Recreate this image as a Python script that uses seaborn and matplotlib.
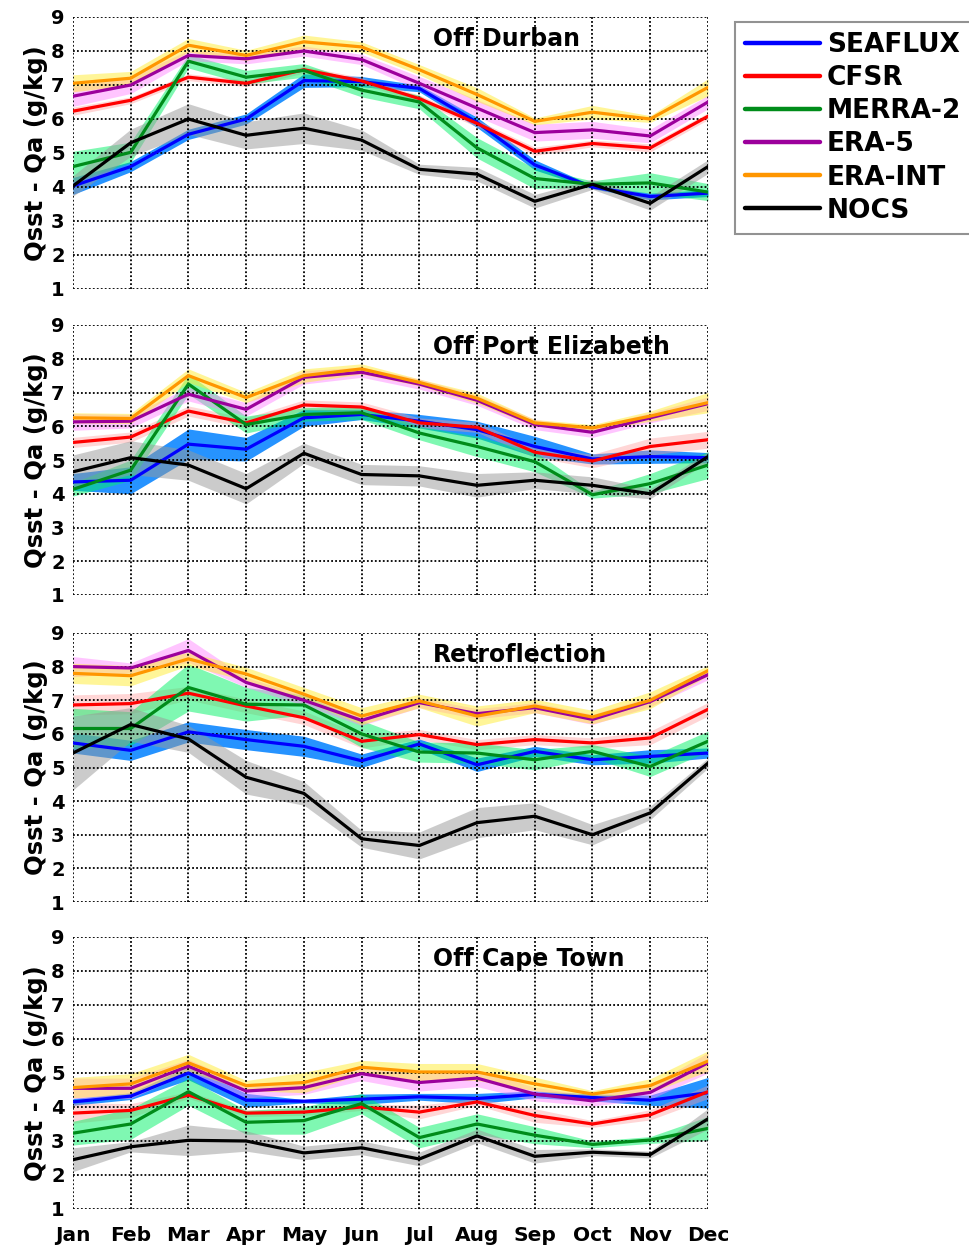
import numpy as np
import pandas as pd
import matplotlib
matplotlib.use("Agg")
import matplotlib.pyplot as plt
from matplotlib.lines import Line2D
import seaborn as sns

MONTHS = ["Jan", "Feb", "Mar", "Apr", "May", "Jun", "Jul", "Aug", "Sep", "Oct", "Nov", "Dec"]
SERIES = ["SEAFLUX", "CFSR", "MERRA-2", "ERA-5", "ERA-INT", "NOCS"]
REGIONS = ["Off Durban", "Off Port Elizabeth", "Retroflection", "Off Cape Town"]

# Monthly mean Qsst - Qa (g/kg) and the half-width of the shaded range
DURBAN_SEAFLUX = [4.03, 4.6, 5.55, 6.0, 7.13, 7.1, 6.9, 5.9, 4.65, 4.0, 3.72, 3.82]
DURBAN_CFSR = [6.23, 6.55, 7.23, 7.05, 7.45, 7.12, 6.6, 5.87, 5.05, 5.28, 5.15, 6.08]
DURBAN_MERRA2 = [4.6, 5.02, 7.7, 7.23, 7.43, 6.85, 6.5, 5.15, 4.25, 4.08, 4.12, 3.85]
DURBAN_ERA5 = [6.67, 7.0, 7.87, 7.77, 8.0, 7.75, 7.05, 6.32, 5.6, 5.68, 5.5, 6.5]
DURBAN_ERAINT = [7.05, 7.2, 8.17, 7.87, 8.27, 8.12, 7.45, 6.72, 5.93, 6.2, 6.0, 6.93]
DURBAN_NOCS = [4.03, 5.3, 6.0, 5.52, 5.73, 5.38, 4.52, 4.38, 3.58, 4.08, 3.52, 4.6]

DURBAN_SEAFLUX_SPREAD = [0.25, 0.15, 0.15, 0.15, 0.2, 0.15, 0.1, 0.15, 0.15, 0.05, 0.1, 0.1]
DURBAN_CFSR_SPREAD = [0.12, 0.1, 0.1, 0.1, 0.1, 0.1, 0.1, 0.1, 0.12, 0.1, 0.12, 0.1]
DURBAN_MERRA2_SPREAD = [0.45, 0.3, 0.2, 0.2, 0.2, 0.2, 0.2, 0.3, 0.3, 0.1, 0.3, 0.25]
DURBAN_ERA5_SPREAD = [0.3, 0.25, 0.15, 0.15, 0.15, 0.15, 0.2, 0.25, 0.25, 0.25, 0.2, 0.2]
DURBAN_ERAINT_SPREAD = [0.25, 0.2, 0.2, 0.15, 0.2, 0.15, 0.15, 0.2, 0.1, 0.2, 0.1, 0.25]
DURBAN_NOCS_SPREAD = [0.3, 0.4, 0.45, 0.4, 0.45, 0.3, 0.15, 0.2, 0.2, 0.15, 0.2, 0.2]

PE_SEAFLUX = [4.35, 4.4, 5.47, 5.32, 6.25, 6.35, 6.15, 5.9, 5.4, 5.03, 5.1, 5.07]
PE_CFSR = [5.52, 5.68, 6.45, 6.1, 6.63, 6.57, 6.1, 5.97, 5.23, 4.97, 5.4, 5.6]
PE_MERRA2 = [4.13, 4.7, 7.25, 6.05, 6.35, 6.4, 5.8, 5.4, 4.95, 3.97, 4.3, 4.85]
PE_ERA5 = [6.13, 6.15, 6.95, 6.5, 7.45, 7.6, 7.25, 6.77, 6.05, 5.82, 6.25, 6.67]
PE_ERAINT = [6.25, 6.23, 7.5, 6.85, 7.5, 7.7, 7.3, 6.83, 6.1, 5.95, 6.3, 6.7]
PE_NOCS = [4.65, 5.07, 4.85, 4.15, 5.2, 4.57, 4.53, 4.25, 4.4, 4.25, 4.0, 5.1]

PE_SEAFLUX_SPREAD = [0.25, 0.4, 0.45, 0.35, 0.25, 0.15, 0.2, 0.25, 0.3, 0.15, 0.2, 0.15]
PE_CFSR_SPREAD = [0.15, 0.15, 0.15, 0.15, 0.15, 0.15, 0.15, 0.15, 0.15, 0.2, 0.25, 0.25]
PE_MERRA2_SPREAD = [0.2, 0.3, 0.3, 0.25, 0.2, 0.2, 0.2, 0.3, 0.3, 0.1, 0.3, 0.4]
PE_ERA5_SPREAD = [0.25, 0.2, 0.2, 0.2, 0.2, 0.15, 0.15, 0.15, 0.15, 0.15, 0.15, 0.2]
PE_ERAINT_SPREAD = [0.15, 0.15, 0.2, 0.15, 0.2, 0.15, 0.1, 0.15, 0.1, 0.1, 0.15, 0.3]
PE_NOCS_SPREAD = [0.5, 0.5, 0.45, 0.45, 0.3, 0.3, 0.3, 0.35, 0.25, 0.25, 0.15, 0.15]

RETRO_SEAFLUX = [5.73, 5.51, 6.06, 5.83, 5.63, 5.2, 5.7, 5.08, 5.48, 5.23, 5.33, 5.43]
RETRO_CFSR = [6.86, 6.9, 7.21, 6.83, 6.48, 5.78, 5.98, 5.68, 5.83, 5.73, 5.88, 6.73]
RETRO_MERRA2 = [6.16, 6.16, 7.38, 6.88, 6.86, 6.0, 5.46, 5.43, 5.23, 5.48, 5.03, 5.78]
RETRO_ERA5 = [8.0, 7.96, 8.48, 7.53, 7.0, 6.4, 6.93, 6.6, 6.78, 6.43, 6.96, 7.76]
RETRO_ERAINT = [7.8, 7.73, 8.23, 7.78, 7.18, 6.53, 6.98, 6.53, 6.83, 6.5, 7.0, 7.88]
RETRO_NOCS = [5.43, 6.28, 5.85, 4.71, 4.23, 2.88, 2.68, 3.36, 3.55, 3.0, 3.65, 5.13]

RETRO_SEAFLUX_SPREAD = [0.3, 0.3, 0.3, 0.3, 0.3, 0.2, 0.15, 0.2, 0.15, 0.15, 0.2, 0.15]
RETRO_CFSR_SPREAD = [0.3, 0.3, 0.2, 0.2, 0.2, 0.2, 0.15, 0.15, 0.15, 0.15, 0.2, 0.2]
RETRO_MERRA2_SPREAD = [0.6, 0.5, 0.7, 0.5, 0.3, 0.4, 0.3, 0.3, 0.3, 0.2, 0.3, 0.3]
RETRO_ERA5_SPREAD = [0.3, 0.15, 0.35, 0.15, 0.15, 0.15, 0.15, 0.15, 0.15, 0.15, 0.15, 0.15]
RETRO_ERAINT_SPREAD = [0.3, 0.3, 0.2, 0.2, 0.2, 0.25, 0.2, 0.3, 0.2, 0.2, 0.25, 0.15]
RETRO_NOCS_SPREAD = [1.1, 0.5, 0.4, 0.5, 0.35, 0.25, 0.4, 0.45, 0.4, 0.3, 0.2, 0.15]

CAPE_SEAFLUX = [4.15, 4.32, 5.0, 4.2, 4.17, 4.23, 4.3, 4.25, 4.37, 4.28, 4.2, 4.42]
CAPE_CFSR = [3.82, 3.9, 4.35, 3.82, 3.85, 4.0, 3.85, 4.15, 3.75, 3.5, 3.77, 4.45]
CAPE_MERRA2 = [3.23, 3.5, 4.45, 3.55, 3.6, 4.1, 3.1, 3.5, 3.17, 2.9, 3.03, 3.37]
CAPE_ERA5 = [4.55, 4.55, 5.2, 4.47, 4.57, 4.98, 4.72, 4.85, 4.38, 4.18, 4.43, 5.3]
CAPE_ERAINT = [4.57, 4.68, 5.3, 4.63, 4.72, 5.17, 5.03, 5.03, 4.68, 4.38, 4.63, 5.35]
CAPE_NOCS = [2.45, 2.83, 3.02, 3.0, 2.65, 2.8, 2.47, 3.15, 2.55, 2.67, 2.6, 3.65]

CAPE_SEAFLUX_SPREAD = [0.1, 0.1, 0.2, 0.2, 0.05, 0.15, 0.1, 0.15, 0.1, 0.1, 0.15, 0.45]
CAPE_CFSR_SPREAD = [0.3, 0.2, 0.1, 0.1, 0.1, 0.1, 0.2, 0.1, 0.2, 0.1, 0.15, 0.2]
CAPE_MERRA2_SPREAD = [0.35, 0.45, 0.4, 0.35, 0.4, 0.3, 0.3, 0.3, 0.25, 0.1, 0.1, 0.35]
CAPE_ERA5_SPREAD = [0.3, 0.3, 0.2, 0.2, 0.2, 0.2, 0.25, 0.25, 0.2, 0.15, 0.2, 0.3]
CAPE_ERAINT_SPREAD = [0.3, 0.3, 0.25, 0.15, 0.3, 0.2, 0.25, 0.25, 0.2, 0.1, 0.2, 0.3]
CAPE_NOCS_SPREAD = [0.35, 0.15, 0.45, 0.3, 0.2, 0.2, 0.2, 0.2, 0.2, 0.1, 0.1, 0.3]

MEANS = [
    [DURBAN_SEAFLUX, DURBAN_CFSR, DURBAN_MERRA2, DURBAN_ERA5, DURBAN_ERAINT, DURBAN_NOCS],
    [PE_SEAFLUX, PE_CFSR, PE_MERRA2, PE_ERA5, PE_ERAINT, PE_NOCS],
    [RETRO_SEAFLUX, RETRO_CFSR, RETRO_MERRA2, RETRO_ERA5, RETRO_ERAINT, RETRO_NOCS],
    [CAPE_SEAFLUX, CAPE_CFSR, CAPE_MERRA2, CAPE_ERA5, CAPE_ERAINT, CAPE_NOCS],
]
SPREADS = [
    [DURBAN_SEAFLUX_SPREAD, DURBAN_CFSR_SPREAD, DURBAN_MERRA2_SPREAD,
     DURBAN_ERA5_SPREAD, DURBAN_ERAINT_SPREAD, DURBAN_NOCS_SPREAD],
    [PE_SEAFLUX_SPREAD, PE_CFSR_SPREAD, PE_MERRA2_SPREAD,
     PE_ERA5_SPREAD, PE_ERAINT_SPREAD, PE_NOCS_SPREAD],
    [RETRO_SEAFLUX_SPREAD, RETRO_CFSR_SPREAD, RETRO_MERRA2_SPREAD,
     RETRO_ERA5_SPREAD, RETRO_ERAINT_SPREAD, RETRO_NOCS_SPREAD],
    [CAPE_SEAFLUX_SPREAD, CAPE_CFSR_SPREAD, CAPE_MERRA2_SPREAD,
     CAPE_ERA5_SPREAD, CAPE_ERAINT_SPREAD, CAPE_NOCS_SPREAD],
]

LINE_COLORS = {
    "SEAFLUX": "#0000ff",
    "CFSR": "#ff0000",
    "MERRA-2": "#008c1a",
    "ERA-5": "#9c009c",
    "ERA-INT": "#ff9600",
    "NOCS": "#000000",
}
BAND_COLORS = {
    "SEAFLUX": ((0.0, 0.5, 1.0), 0.85),
    "CFSR": ((1.0, 0.6, 0.6), 0.4),
    "MERRA-2": ((0.0, 0.95, 0.4), 0.5),
    "ERA-5": ((1.0, 0.5, 1.0), 0.45),
    "ERA-INT": ((1.0, 0.93, 0.2), 0.5),
    "NOCS": ((0.6, 0.6, 0.6), 0.5),
}

sns.set_style("white")
plt.rcParams["font.family"] = ["DejaVu Sans"]
plt.rcParams["font.weight"] = "bold"
for key in ("text.color", "axes.labelcolor", "xtick.labelcolor", "ytick.labelcolor"):
    plt.rcParams[key] = "black"

fig = plt.figure(figsize=(9.69, 12.5), dpi=100)
left, width = 0.0753, 0.6553
panel_boxes = [(0.7688, 0.2176), (0.524, 0.216), (0.2784, 0.2152), (0.0328, 0.2176)]

x = np.arange(1, 13)
axes = []
for p, (bottom, height) in enumerate(panel_boxes):
    ax = fig.add_axes([left, bottom, width, height])
    axes.append(ax)
    rows = []
    for s, name in enumerate(SERIES):
        for m in range(12):
            rows.append({"month": x[m], "value": MEANS[p][s][m], "dataset": name})
    df = pd.DataFrame(rows)

    # shaded ranges underneath all lines
    for s, name in enumerate(SERIES):
        mean = np.array(MEANS[p][s])
        spread = np.array(SPREADS[p][s])
        col, a = BAND_COLORS[name]
        ax.fill_between(x, mean - spread, mean + spread, color=col, alpha=a,
                        linewidth=0, zorder=1)

    sns.lineplot(data=df, x="month", y="value", hue="dataset", hue_order=SERIES,
                 palette=LINE_COLORS, linewidth=2.3, ax=ax, legend=False, zorder=3)

    ax.set_xlim(1, 12)
    ax.set_ylim(1, 9)
    ax.set_xticks(x)
    ax.set_yticks(range(1, 10))
    ax.grid(True, color="black", linestyle=(0, (1, 1.2)), linewidth=1.3, zorder=2)
    ax.set_axisbelow(False)
    for sp in ax.spines.values():
        sp.set_visible(False)
    ax.tick_params(axis="both", direction="out", length=3, width=1, color="#444444",
                   labelsize=14, pad=3)
    ax.tick_params(axis="x", pad=9)
    for lab in ax.get_yticklabels():
        lab.set_fontweight("bold")
    if p == 3:
        ax.set_xticklabels(MONTHS, fontsize=14.5, fontweight="bold")
    else:
        ax.set_xticklabels([])
    ax.set_xlabel("")
    ax.set_ylabel("Qsst - Qa (g/kg)", fontsize=17.5, fontweight="bold", labelpad=2)
    ax.text(0.567, 8.35, REGIONS[p], transform=ax.get_yaxis_transform(),
            ha="left", va="center", fontsize=17, fontweight="bold")

handles = [Line2D([0], [0], color=LINE_COLORS[n], linewidth=3.2) for n in SERIES]
leg = fig.legend(handles, SERIES, loc="upper left", bbox_to_anchor=(0.7585, 0.9824),
                 frameon=True, fancybox=False, handlelength=2.85, handletextpad=0.25,
                 labelspacing=0.27, borderpad=0.38, borderaxespad=0,
                 prop={"weight": "bold", "size": 19})
leg.get_frame().set_edgecolor("#777777")
leg.get_frame().set_linewidth(1.5)

fig.savefig("out.png", dpi=100, facecolor="white")
